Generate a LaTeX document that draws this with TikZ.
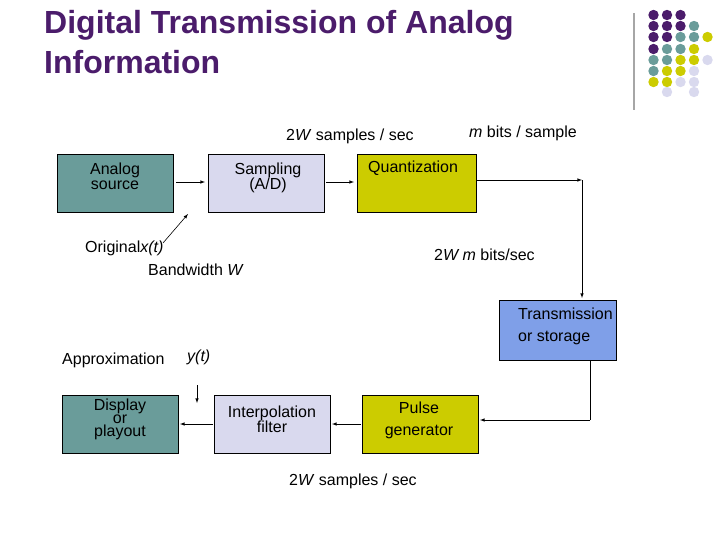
\documentclass[tikz,border=0pt]{standalone}
\usepackage{fontspec}
\setmainfont{Liberation Sans}
\definecolor{tpur}{HTML}{4B1C6B}
\definecolor{tteal}{HTML}{6A9C9A}
\definecolor{tyel}{HTML}{CCCC00}
\definecolor{tlav}{HTML}{D9D9EE}
\definecolor{tblue}{HTML}{7F9FE8}
\begin{document}
\begin{tikzpicture}[x=1pt,y=-1pt,
  blk/.style={draw=black,line width=0.5pt,minimum width=116pt,minimum height=58pt,anchor=north west,inner sep=0pt,font=\fontsize{16}{15}\selectfont,align=center},
  arr/.style={-latex,line width=0.6pt},
  lab/.style={font=\fontsize{16}{18}\selectfont,anchor=west,inner sep=0pt}]
\useasboundingbox (0,0) rectangle (728,546);
\node[anchor=north west,text=tpur,align=left,font=\fontsize{32}{40}\bfseries\selectfont,inner sep=0pt] (title) at (44,10) {Digital Transmission of Analog\\Information};
\draw[gray!70,line width=1.5pt] (634,13) -- (634,110);
\foreach \row/\cols in {15/{1/tpur,2/tpur,3/tpur},26/{1/tpur,2/tpur,3/tpur,4/tteal},37/{1/tpur,2/tpur,3/tteal,4/tteal,5/tyel},49/{1/tpur,2/tteal,3/tteal,4/tyel},60/{1/tteal,2/tteal,3/tyel,4/tyel,5/tlav},71/{1/tteal,2/tyel,3/tyel,4/tlav},82/{1/tyel,2/tyel,3/tlav,4/tlav},92/{2/tlav,4/tlav}}
  \foreach \c/\k in \cols {
    \fill[color=\k] ({640+13.5*\c},\row) circle (5.2);
  }
\node[blk,fill=tteal] (src) at (57,154) {}; \node[font=\fontsize{16}{15}\selectfont,align=center] (srct) at (115,176) {Analog\\source};
\node[blk,fill=tlav] (samp) at (208,154) {}; \node[font=\fontsize{16}{15}\selectfont,align=center] (sampt) at (268,178) {Sampling\\(A/D)};
\node[blk,fill=tyel,minimum width=119pt] (quant) at (357,154) {}; \node[lab] (quantt) at (368,168) {Quantization};
\node[blk,fill=tblue,minimum width=117pt,minimum height=60pt] (trans) at (499,300) {}; \node[lab,align=left,font=\fontsize{16}{22}\selectfont] (transt) at (518,326) {Transmission\\or storage};
\node[blk,fill=tyel] (pulse) at (362,395) {}; \node[font=\fontsize{16}{22}\selectfont,align=center] (pulset) at (419,420) {Pulse\\generator};
\node[blk,fill=tlav] (interp) at (214,395) {}; \node[font=\fontsize{16}{15}\selectfont,align=center] (interpt) at (272,419) {Interpolation\\filter};
\node[blk,fill=tteal] (disp) at (62,395) {}; \node[font=\fontsize{16}{13}\selectfont,align=center] (dispt) at (120,419) {Display\\or\\playout};
\coordinate (qr) at (582,180); \coordinate (tb) at (590,420);
\draw[arr] (176,182) -- (205,182);
\draw[arr] (326,182) -- (354,182);
\draw[arr] (477,180) -- (qr);
\draw[arr] (qr) -- (582,298);
\draw (590,361) -- (tb);
\draw[arr] (tb) -- (480,420);
\draw[arr] (361,424) -- (332,424);
\draw[arr] (213,424) -- (180,424);
\draw[arr] (197,385) -- (197,403);
\draw[arr] (163,243) -- (188,214);
\node[lab] (l1) at (286,136) {2\textit{W} samples / sec};
\node[lab] (l2) at (469,133) {\textit{m} bits / sample};
\node[lab] (l3) at (85,248) {Original\textit{x(t)}};
\node[lab] (l4) at (148,270) {Bandwidth \textit{W}};
\node[lab] (l5) at (434,255) {2\textit{W m} bits/sec};
\node[lab] (l6) at (62,360) {Approximation};
\node[lab] (l6b) at (187,357) {\textit{y(t)}};
\node[lab] (l7) at (289,481) {2\textit{W} samples / sec};
\end{tikzpicture}
\end{document}
